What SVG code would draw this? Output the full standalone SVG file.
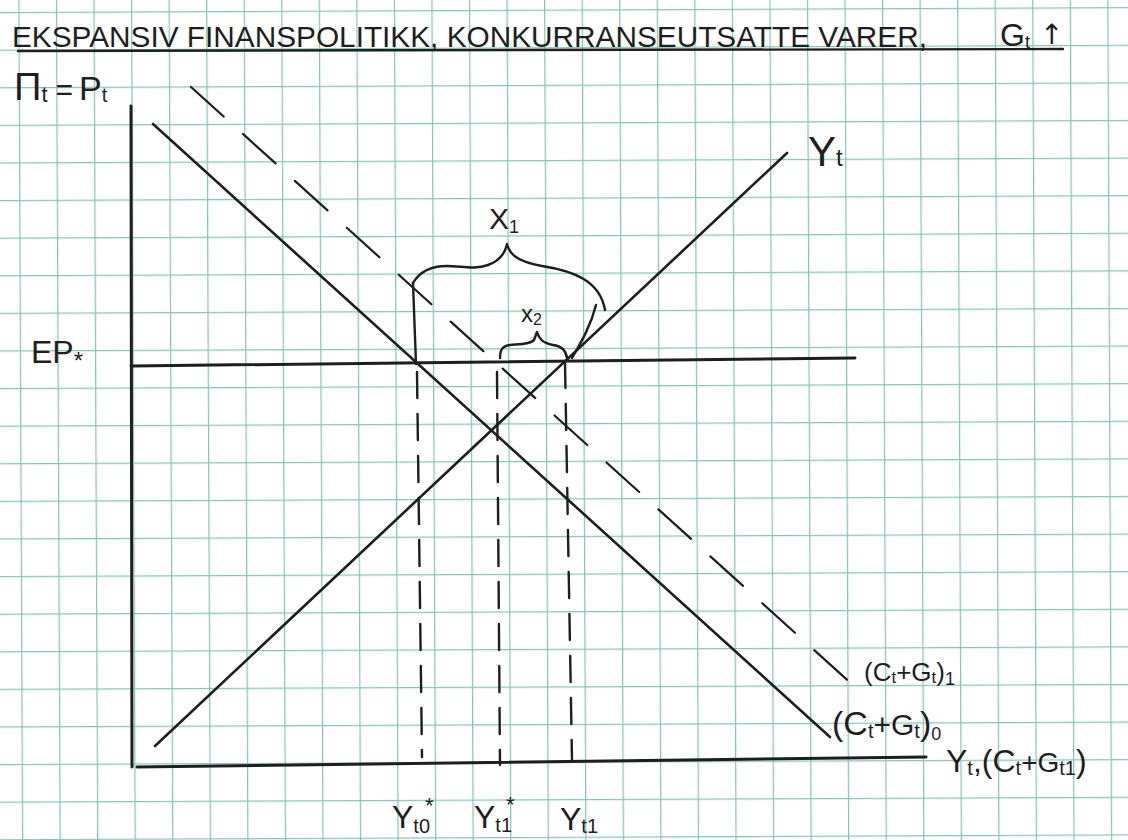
<svg xmlns="http://www.w3.org/2000/svg" width="1128" height="840" viewBox="0 0 1128 840">
<defs>
<pattern id="grid" x="18.3" y="12" width="37.55" height="37.6" patternUnits="userSpaceOnUse">
<path d="M0 0.6 H37.55 M0.6 0 V37.6" fill="none" stroke="#88c3b6" stroke-width="1.3"/>
</pattern>
<style>
.ink{fill:none;stroke:#1e1e1e;stroke-linecap:round;stroke-linejoin:round}
.axis{stroke-width:3}
.curve{stroke-width:2.6}
.dash{stroke-width:2.2;stroke-dasharray:44 26}
.vdash{stroke-width:2.4;stroke-dasharray:26 16}
.brace{stroke-width:2.4}
text{font-family:"Liberation Sans","DejaVu Sans",sans-serif;fill:#1e1e1e}
.sym{font-family:"DejaVu Sans",sans-serif}
</style>
</defs>
<rect width="1128" height="840" fill="#ffffff"/>
<rect x="-20" y="-20" width="1180" height="880" fill="url(#grid)" transform="rotate(-0.25)"/>

<g id="title">
<text x="12" y="47" font-size="30" textLength="915" lengthAdjust="spacingAndGlyphs">EKSPANSIV FINANSPOLITIKK, KONKURRANSEUTSATTE VARER,</text>
<text x="1000" y="46" font-size="32">G<tspan font-size="18" dy="2">t</tspan><tspan class="sym" font-size="28" dx="10" dy="-4" fill="#1e1e1e">↑</tspan></text>
<line class="ink" x1="18" y1="51" x2="1063" y2="49" stroke-width="2.4"/>
</g>

<g id="axis-labels">
<text x="14" y="100" font-size="38">Π<tspan font-size="22" dy="2">t</tspan><tspan dx="8" dy="-2" font-size="30">=</tspan><tspan dx="6" font-size="34">P</tspan><tspan font-size="20" dy="2">t</tspan></text>
<text x="31" y="363" font-size="32">EP<tspan font-size="24" dy="6">*</tspan></text>
<text x="808" y="166" font-size="42">Y<tspan font-size="24" dy="0">t</tspan></text>
<text x="864" y="681" font-size="26">(C<tspan font-size="17" dy="2">t</tspan><tspan dy="-2">+G</tspan><tspan font-size="17" dy="2">t</tspan><tspan dy="-2">)</tspan><tspan font-size="18" dy="4">1</tspan></text>
<text x="832" y="735" font-size="34">(C<tspan font-size="20" dy="3">t</tspan><tspan font-size="30" dy="-3">+G</tspan><tspan font-size="20" dy="3">t</tspan><tspan dy="-3">)</tspan><tspan font-size="18" dy="5">0</tspan></text>
<text x="946" y="772" font-size="32">Y<tspan font-size="20" dy="3">t</tspan><tspan dy="-3">,(C</tspan><tspan font-size="20" dy="3">t</tspan><tspan font-size="28" dy="-3">+G</tspan><tspan font-size="20" dy="3">t1</tspan><tspan dy="-3">)</tspan></text>
</g>

<g id="bottom-labels">
<text x="392" y="828" font-size="32">Y<tspan font-size="20" dy="5">t0</tspan><tspan font-size="22" dx="-5" dy="-20">*</tspan></text>
<text x="474" y="828" font-size="32">Y<tspan font-size="20" dy="4">t1</tspan><tspan font-size="22" dx="-6" dy="-20">*</tspan></text>
<text x="560" y="830" font-size="32">Y<tspan font-size="20" dy="3">t1</tspan></text>
</g>

<g id="axes">
<line class="ink axis" x1="131" y1="106" x2="132" y2="767"/>
<line class="ink axis" x1="137" y1="767" x2="926" y2="757"/>
</g>

<g id="connectors">
<line id="Yt-line" class="ink curve" x1="155" y1="746" x2="787" y2="153"/>
<line id="CG0-line" class="ink curve" x1="153" y1="124" x2="830" y2="737"/>
<line id="CG1-line" class="ink dash" x1="191" y1="87" x2="855" y2="687"/>
<line id="EP-line" class="ink axis" x1="131" y1="366" x2="855" y2="358"/>
<line class="ink vdash" x1="417" y1="372" x2="422" y2="757"/>
<line class="ink vdash" x1="497" y1="372" x2="500" y2="765"/>
<line class="ink vdash" x1="565" y1="362" x2="572" y2="760"/>
</g>

<g id="brace-x1">
<path class="ink brace" d="M413,283 C420,271 432,266 447,266 C462,266 474,270 488,265 C499,261 505,254 507,244 C510,256 520,262 542,266 C574,271 600,281 605,310"/>
<path class="ink brace" d="M413,283 L416,364"/>
<path class="ink brace" d="M596,305 C591,325 582,341 572,358"/>
<text x="489" y="229" font-size="30">X<tspan font-size="18" dy="4">1</tspan></text>
</g>

<g id="brace-x2">
<path class="ink brace" d="M500,358 C500,350 502,346 510,345 C521,344 531,344 534,340 L537,332 C539,339 543,343 553,345 C562,346 566,350 567,358"/>
<text x="521" y="322" font-size="24">x<tspan font-size="16" dy="3">2</tspan></text>
</g>
</svg>
